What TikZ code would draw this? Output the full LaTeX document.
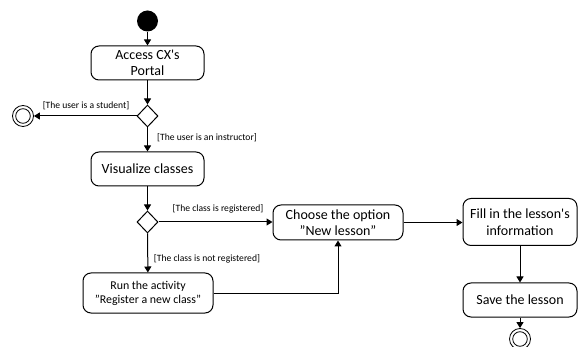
\documentclass[tikz,border=0pt]{standalone}
\usepackage{fontspec}
\setmainfont{Carlito}
\usetikzlibrary{shapes.geometric,arrows.meta}
\begin{document}
\begin{tikzpicture}[x=1pt,y=-1pt,
  act/.style={draw,rectangle,rounded corners=8pt,line width=1pt,align=center,
    inner sep=2pt,font=\fontsize{14}{16.5}\selectfont},
  decide/.style={draw,diamond,line width=1pt,minimum width=21pt,minimum height=22pt,inner sep=0pt},
  guard/.style={font=\fontsize{9.6}{11}\selectfont,inner sep=1pt},
  flow/.style={line width=1pt,-{Triangle[width=7pt,length=6pt]}},
  initial/.style={fill=black,circle,minimum size=21pt,inner sep=0pt},
  final/.style={draw,circle,line width=0.8pt,minimum size=21pt,inner sep=0pt,
    path picture={\draw[line width=0.8pt] (path picture bounding box.center) circle[radius=7.3pt];}}]
\useasboundingbox (0,0) rectangle (578,347);

% nodes
\node[initial] (start) at (147.5,21) {};
\node[act,minimum width=113pt,minimum height=34pt] (access) at (147.5,63) {Access CX\textquotesingle s\\Portal};
\node[decide] (d1) at (147.5,116) {};
\node[final] (endL) at (23,116) {};
\node[act,minimum width=113pt,minimum height=34pt] (visual) at (147.5,169) {Visualize classes};
\node[decide] (d2) at (147.5,222) {};
\node[act,minimum width=130pt,minimum height=35pt] (choose) at (338,222.5) {Choose the option\\"New lesson"};
\node[act,minimum width=130pt,minimum height=40pt,font=\fontsize{11.9}{14}\selectfont] (run) at (148,293) {Run the activity\\"Register a new class"};
\node[act,minimum width=114pt,minimum height=47pt] (fill) at (520,222) {Fill in the lesson\textquotesingle s\\information};
\node[act,minimum width=114pt,minimum height=34pt] (save) at (520,300) {Save the lesson};
\node[final] (endB) at (520,339) {};

% guards
\node[guard] (g1) at (86,106) {[The user is a student]};
\node[guard] (g2) at (207,138) {[The user is an instructor]};
\node[guard] (g3) at (218,209) {[The class is registered]};
\node[guard] (g4) at (207,259) {[The class is not registered]};

% flows
\draw[flow] (start) -- (access);
\draw[flow] (access) -- (d1);
\draw[flow] (d1.west) -- (endL);
\draw[flow] (d1) -- (visual);
\draw[flow] (visual) -- (d2);
\draw[flow] (d2.east) -- (choose.west |- d2.east);
\draw[flow] (d2) -- (run);
\draw[flow] (run.east) -| (choose.south);
\draw[flow] (choose.east) -- (fill.west |- choose.east);
\draw[flow] (fill) -- (save);
\draw[flow] (save) -- (endB);
\end{tikzpicture}
\end{document}
